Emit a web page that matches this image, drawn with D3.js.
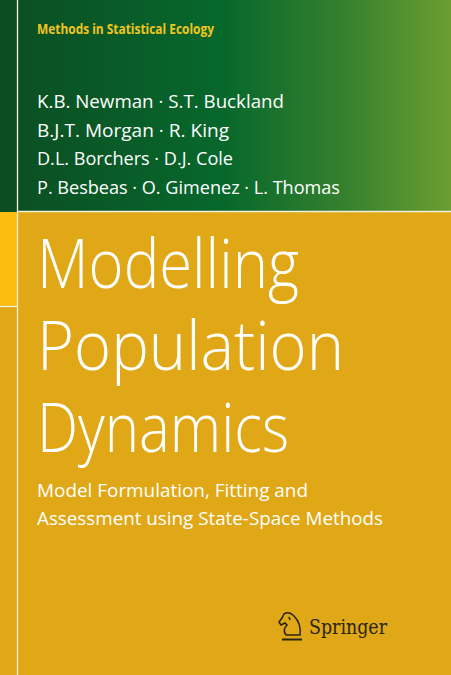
<!DOCTYPE html>
<html><head><meta charset="utf-8">
<script src="https://cdn.jsdelivr.net/npm/d3@7"></script>
<style>body{margin:0;overflow:hidden}svg{display:block}</style>
</head><body>
<script>
const series = ["Methods in Statistical Ecology"];
const authors = ["K.B. Newman · S.T. Buckland","B.J.T. Morgan · R. King","D.L. Borchers · D.J. Cole","P. Besbeas · O. Gimenez · L. Thomas"];
const authorWidths = [247,192,196,303];
const titleLines = ["Modelling","Population","Dynamics"];
const titleWidths = [262,307,252];
const subtitle = ["Model Formulation, Fitting and","Assessment using State-Space Methods"];
const subWidths = [271,346];

const W=451,H=675;
const svg=d3.select("body").append("svg").attr("width",W).attr("height",H);
const defs=svg.append("defs");
const g=defs.append("linearGradient").attr("id","gr");
[[0,"#0b4d22"],[0.5,"#07682c"],[0.75,"#337f2e"],[1,"#6b9d30"]].forEach(([o,c])=>g.append("stop").attr("offset",o).attr("stop-color",c));
svg.append("rect").attr("width",W).attr("height",H).attr("fill","#e0a816");
svg.append("rect").attr("width",W).attr("height",212).attr("fill","url(#gr)");
svg.append("rect").attr("y",212).attr("width",17).attr("height",94).attr("fill","#fbbd10");
const lw="#f3f0e0";
svg.append("line").attr("x1",17.5).attr("x2",17.5).attr("y1",0).attr("y2",H).attr("stroke",lw).attr("stroke-width",1.3);
svg.append("line").attr("x1",17).attr("x2",W).attr("y1",211.5).attr("y2",211.5).attr("stroke",lw).attr("stroke-width",1.3);
svg.append("line").attr("x1",0).attr("x2",17).attr("y1",306.5).attr("y2",306.5).attr("stroke",lw).attr("stroke-width",1.3);

const F="'Open Sans', sans-serif";
function txt(s,x,y,size,w,fill,weight){
  svg.append("text").attr("x",x).attr("y",y).attr("font-family",F).attr("font-size",size)
   .attr("font-weight",weight||400).attr("fill",fill).attr("textLength",w).attr("lengthAdjust","spacingAndGlyphs").text(s);
}
txt(series[0],37,34,14,177,"#f2c51c",700);
authors.forEach((a,i)=>txt(a,37,108+i*28.5,19,authorWidths[i],"#fff",400));
titleLines.forEach((t,i)=>txt(t,37,288+i*82,68,titleWidths[i],"#fff",300));
subtitle.forEach((t,i)=>txt(t,37,497+i*28,19,subWidths[i],"#fff",400));

// Springer logo
const lg=svg.append("g").attr("fill","none").attr("stroke","#2a2418").attr("stroke-width",1.6);
lg.append("path").attr("d","M286 635 L300 635 C301 627 298 620 294 616 C291 613 287 612 284 614 L282 618 L279 622 L281 625 L285 623 L287 625 C284 628 283 631 286 635 Z");
lg.append("path").attr("d","M289 617 L290 620");
svg.append("line").attr("x1",282).attr("x2",302).attr("y1",639.5).attr("y2",639.5).attr("stroke","#2a2418").attr("stroke-width",2);
svg.append("text").attr("x",309).attr("y",634).attr("font-family","'DejaVu Serif', 'Liberation Serif', serif").attr("font-size",21)
 .attr("fill","#2a2418").attr("textLength",78).attr("lengthAdjust","spacingAndGlyphs").text("Springer");
</script>
</body></html>
